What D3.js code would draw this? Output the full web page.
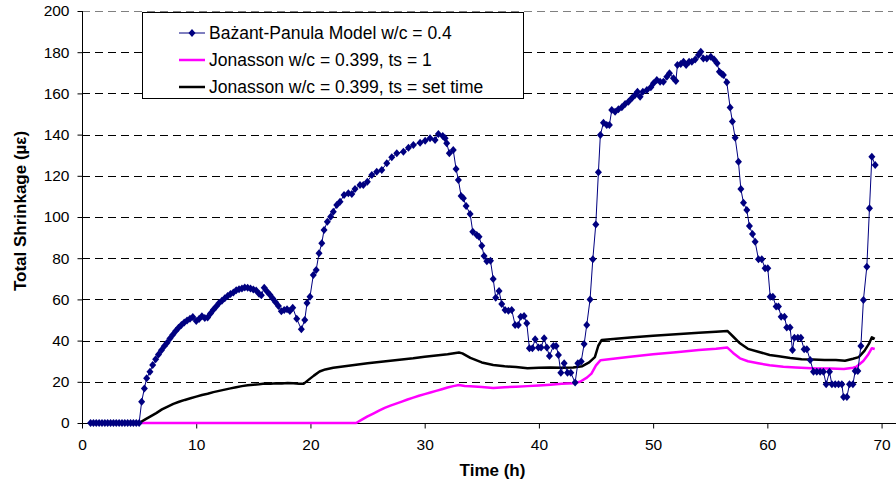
<!DOCTYPE html>
<html>
<head>
<meta charset="utf-8">
<script src="https://cdn.jsdelivr.net/npm/d3@7"></script>
<style>
  html, body { margin: 0; padding: 0; background: #fff; }
  svg { display: block; font-family: "Liberation Sans", Arial, sans-serif; }
</style>
</head>
<body>
<svg id="chart" width="896" height="482"></svg>
<script>
// ---- Data ----
const seriesNames = [
  "Bażant-Panula Model w/c = 0.4",
  "Jonasson w/c = 0.399, ts = 1",
  "Jonasson w/c = 0.399, ts = set time"
];
const xTicks = [0, 10, 20, 30, 40, 50, 60, 70];
const yTicks = [0, 20, 40, 60, 80, 100, 120, 140, 160, 180, 200];

const bpTime = [0.75,1.0,1.25,1.5,1.75,2.0,2.25,2.5,2.75,3.0,3.25,3.5,3.75,4.0,4.25,4.5,4.75,5.0,
  5.22,5.46,5.66,5.95,6.19,6.45,6.7,6.95,7.2,7.45,7.7,7.95,8.2,8.45,8.7,8.95,9.2,9.45,9.7,10.0,
  10.25,10.5,10.75,11.0,11.25,11.5,11.75,12.0,12.25,12.5,12.75,13.0,13.25,13.5,13.75,14.0,14.25,
  14.5,14.75,15.0,15.25,15.5,15.7,15.95,16.2,16.45,16.7,16.95,17.2,17.45,17.7,17.95,18.2,18.45,
  18.8,19.2,19.5,19.7,19.96,20.25,20.5,20.75,20.99,21.19,21.48,21.77,22.0,22.3,22.59,22.94,23.32,
  23.62,23.9,24.34,24.63,24.98,25.37,25.8,26.24,26.68,27.12,27.56,28.14,28.58,29.01,29.6,30.04,
  30.47,30.91,31.2,31.58,31.79,31.93,32.16,32.5,32.75,32.95,33.19,33.39,33.63,33.98,34.21,34.56,
  34.76,35.0,35.2,35.44,35.76,36.0,36.22,36.51,36.75,37.04,37.33,37.62,37.92,38.2,38.41,38.7,
  38.94,39.17,39.43,39.67,39.96,40.19,40.46,40.69,40.92,41.27,41.51,41.71,41.92,42.21,42.5,42.79,
  43.17,43.41,43.7,43.96,44.19,44.48,44.72,44.98,45.21,45.38,45.65,45.94,46.17,46.38,46.67,46.96,
  47.26,47.55,47.84,48.13,48.42,48.63,48.86,49.1,49.45,49.8,50.03,50.32,50.61,50.9,51.2,51.43,
  51.78,51.99,52.13,52.42,52.66,52.89,53.15,53.39,53.68,53.97,54.17,54.4,54.7,55.05,55.34,55.6,
  55.8,56.0,56.15,56.45,56.74,56.94,57.18,57.47,57.68,57.91,58.2,58.43,58.7,58.93,59.22,59.51,
  59.8,60.04,60.25,60.48,60.77,60.97,61.21,61.5,61.7,61.99,62.2,62.37,62.67,62.93,63.22,63.46,
  63.75,64.04,64.33,64.62,64.91,65.15,65.44,65.65,65.94,66.23,66.52,66.67,66.96,67.19,67.49,
  67.69,67.92,68.19,68.41,68.71,68.94,69.15,69.44];
const bpShrink = [0,0,0,0,0,0,0,0,0,0,0,0,0,0,0,0,0,0,
  10.3,16.8,21.7,24.9,28.2,30.9,33.2,35.3,37.2,39.0,41.0,42.8,44.6,46.2,47.6,48.8,49.8,50.6,51.4,49.5,
  50.5,51.8,51.0,51.2,53.2,55.0,56.6,58.2,59.4,60.6,61.6,62.6,63.4,64.4,64.9,65.3,65.8,
  65.6,65.3,64.8,64.3,62.8,62.0,65.6,63.8,62.2,60.4,58.6,56.8,54.2,54.8,55.2,54.4,56.0,
  50.6,45.5,50.0,58.2,61.3,71.8,74.3,82.4,87.2,93.7,97.7,100.1,102.6,105.8,107.4,110.7,111.5,
  111.2,113.6,115.5,115.5,117.1,120.4,122.0,122.8,126.1,129.0,130.9,131.7,133.6,134.9,136.1,137.0,
  138.2,137.4,140.3,139.3,138.2,135.8,130.9,132.5,123.3,118.0,110.2,109.1,105.3,101.5,92.9,91.3,
  90.4,86.1,81.1,78.5,78.8,69.9,60.8,64.1,57.8,54.9,54.5,54.9,47.6,47.6,51.6,51.9,
  48.4,36.3,36.3,40.6,36.7,36.7,41.1,36.7,32.5,37.4,37.4,33.0,24.4,29.0,24.4,24.4,
  19.6,29.0,29.8,38.3,47.6,60.0,79.5,96.4,121.7,139.8,145.8,144.7,144.7,151.9,151.1,152.3,
  153.3,154.9,156.0,157.6,159.2,160.8,158.4,160.8,161.7,163.0,164.9,166.5,165.7,165.7,168.1,169.8,
  167.3,166.0,173.8,174.3,175.4,173.8,175.4,175.4,176.5,178.6,180.2,177.0,177.0,177.8,176.5,174.6,
  170.5,169.5,168.9,165.4,153.1,146.3,138.5,126.8,113.6,106.9,103.4,95.6,91.7,88.0,79.5,79.5,
  75.1,75.1,61.3,61.3,56.5,56.5,51.6,51.6,46.4,46.4,35.4,41.4,41.4,41.4,35.8,35.8,
  30.6,24.9,24.9,24.9,24.9,18.8,24.9,18.8,18.8,18.8,18.8,12.6,12.6,18.8,18.8,
  25.2,25.2,37.4,59.7,75.9,104.2,129.3,125.2];

const jts1Time = [5.0,24.0,24.5,25.0,25.5,26.0,26.5,27.0,27.5,28.0,28.5,29.0,29.5,30.0,30.5,31.0,31.5,
  32.0,32.5,33.0,33.5,34.0,35.0,36.0,37.0,38.0,39.0,40.0,41.0,42.0,43.0,43.6,44.2,44.6,45.0,45.4,
  46.5,48.0,50.0,52.0,54.0,55.5,56.5,57.0,57.6,58.3,59.2,60.2,61.4,62.5,64.3,65.5,66.7,67.5,67.8,
  68.4,68.8,69.15,69.4];
const jts1Shrink = [0,0,1.6,3.2,4.6,6.0,7.3,8.4,9.4,10.4,11.4,12.3,13.2,14.0,14.8,15.6,16.4,
  17.2,17.9,18.4,18.0,17.8,17.5,17.0,17.4,17.6,17.9,18.2,18.6,19.0,19.3,20.0,22.0,24.0,28.0,30.5,
  31.2,32.2,33.4,34.4,35.4,36.0,36.6,34.0,31.4,30.0,29.0,28.0,27.3,27.0,26.5,26.4,26.2,26.8,27.3,
  30.1,33.0,36.3,35.9];

const jstTime = [5.0,5.5,6.0,6.5,7.0,7.5,8.0,8.5,9.0,9.5,10.0,10.5,11.0,11.5,12.0,12.5,13.0,13.5,14.0,
  14.5,15.0,15.5,16.0,16.5,17.0,17.5,18.0,18.5,19.0,19.4,19.8,20.3,20.8,21.3,22.0,23.0,24.0,25.0,
  26.0,27.0,28.0,29.0,30.0,31.0,32.0,33.0,33.3,34.0,35.0,36.0,37.0,38.0,39.0,40.0,41.0,42.0,43.0,
  43.8,44.4,44.9,45.2,45.5,46.5,48.0,50.0,52.0,54.0,55.5,56.5,57.0,57.6,58.3,59.2,60.2,61.0,62.0,
  63.0,64.0,65.0,66.0,66.8,67.5,68.0,68.5,68.9,69.15,69.4];
const jstShrink = [0,1.6,3.2,4.8,6.6,8.0,9.3,10.3,11.2,12.0,12.8,13.6,14.2,15.0,15.6,16.2,16.8,17.4,17.9,
  18.3,18.6,18.8,19.2,19.0,19.3,19.2,19.4,19.3,19.1,19.0,20.8,23.0,25.0,26.0,26.8,27.6,28.3,29.0,
  29.6,30.2,30.8,31.4,32.2,32.8,33.4,34.2,33.8,31.6,29.4,28.2,27.5,27.2,26.6,26.8,27.0,26.8,26.9,
  27.6,29.4,32.0,37.5,40.3,40.8,41.5,42.4,43.1,43.8,44.3,44.7,42.0,38.7,36.0,34.6,33.0,32.4,31.6,
  31.0,30.8,30.6,30.6,30.2,31.2,32.0,35.0,38.5,41.6,40.8];

// ---- Chart ----
const svg = d3.select("#chart");
const pL = 82, pR = 893, pT = 11, pB = 423;
const x = d3.scaleLinear().domain([0, 71]).range([pL, pR]);
const y = d3.scaleLinear().domain([0, 200]).range([pB, pT]);

// gridlines
svg.append("g").selectAll("line")
  .data(yTicks.filter(d => d > 0))
  .join("line")
  .attr("x1", pL).attr("x2", pR)
  .attr("y1", d => Math.round(y(d)) + 0.5).attr("y2", d => Math.round(y(d)) + 0.5)
  .attr("stroke", d => d === 200 ? "#808080" : "#000")
  .attr("stroke-width", 1)
  .attr("stroke-dasharray", "8,5");

// axes
const yAxis = d3.axisLeft(y).tickValues(yTicks).tickSize(5).tickPadding(8).tickFormat(d3.format("d"));
const gy = svg.append("g").attr("transform", `translate(${pL + 0.5},0)`).call(yAxis);
gy.select(".domain").attr("d", `M0,${pT}V${pB}`).attr("stroke", "#000");
gy.selectAll(".tick line").attr("stroke", "#000");
gy.selectAll("text").attr("font-size", 15.5).attr("fill", "#000")
  .attr("font-family", "Liberation Sans, Arial, sans-serif");

const xAxis = d3.axisBottom(x).tickValues(xTicks).tickSize(5).tickPadding(10).tickFormat(d3.format("d"));
const gx = svg.append("g").attr("transform", `translate(0,${pB + 0.5})`).call(xAxis);
gx.select(".domain").attr("d", `M${pL},0H896`).attr("stroke", "#000");
gx.selectAll(".tick line").attr("stroke", "#000");
gx.selectAll("text").attr("font-size", 15.5).attr("fill", "#000")
  .attr("font-family", "Liberation Sans, Arial, sans-serif");

// axis titles
svg.append("text")
  .attr("x", (pL + pR) / 2 + 5).attr("y", 476)
  .attr("text-anchor", "middle").attr("font-size", 17).attr("font-weight", "bold")
  .text("Time (h)");
svg.append("text")
  .attr("transform", `translate(26,211) rotate(-90)`)
  .attr("text-anchor", "middle").attr("font-size", 17).attr("font-weight", "bold")
  .text("Total Shrinkage (µε)");

// lines
const line = d3.line().x(d => x(d[0])).y(d => y(d[1]));
const magData = jts1Time.map((t, i) => [t, jts1Shrink[i]]);
const blkData = jstTime.map((t, i) => [t, jstShrink[i]]);
const bpData = bpTime.map((t, i) => [t, bpShrink[i]]);

svg.append("path").datum(magData).attr("d", line)
  .attr("fill", "none").attr("stroke", "#FF00FF").attr("stroke-width", 2.5).attr("stroke-linejoin", "round");
svg.append("path").datum(blkData).attr("d", line)
  .attr("fill", "none").attr("stroke", "#000").attr("stroke-width", 2.5).attr("stroke-linejoin", "round");
svg.append("path").datum(bpData).attr("d", line)
  .attr("fill", "none").attr("stroke", "#000080").attr("stroke-width", 1);

const diamond = "M0,-4L3.5,0L0,4L-3.5,0Z";
svg.append("g").selectAll("path")
  .data(bpData).join("path")
  .attr("d", diamond)
  .attr("transform", d => `translate(${x(d[0])},${y(d[1])})`)
  .attr("fill", "#000080");

// legend
const lg = svg.append("g");
lg.append("rect").attr("x", 142.5).attr("y", 12.5).attr("width", 381).attr("height", 86)
  .attr("fill", "#fff").attr("stroke", "#000").attr("stroke-width", 1);
const rowsY = [33, 60, 87];
const colors = ["#000080", "#FF00FF", "#000"];
const widths = [1, 2.5, 2.5];
seriesNames.forEach((name, i) => {
  lg.append("line").attr("x1", 179).attr("x2", 205).attr("y1", rowsY[i]).attr("y2", rowsY[i])
    .attr("stroke", colors[i]).attr("stroke-width", widths[i]);
  if (i === 0) {
    lg.append("path").attr("d", diamond).attr("transform", `translate(192,${rowsY[i]})`).attr("fill", "#000080");
  }
  lg.append("text").attr("x", 209).attr("y", rowsY[i]).attr("dy", "0.36em")
    .attr("font-size", 17.5).attr("fill", "#000").text(name);
});
</script>
</body>
</html>
